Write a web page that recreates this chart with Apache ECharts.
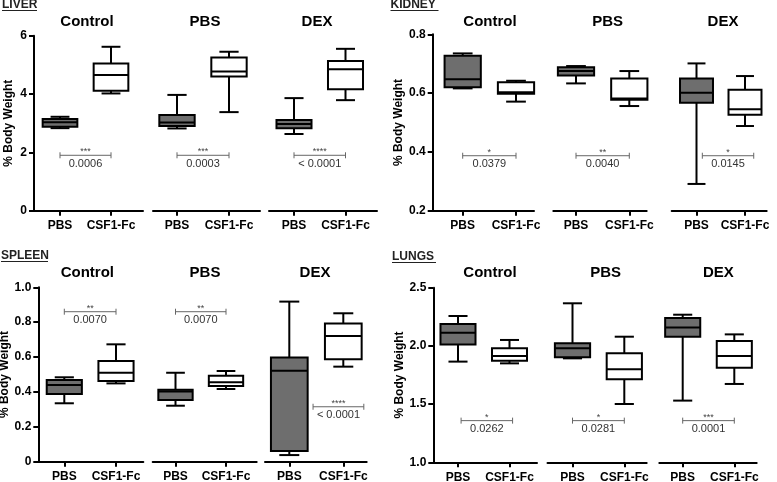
<!DOCTYPE html>
<html><head><meta charset="utf-8">
<script src="https://cdn.jsdelivr.net/npm/echarts@6/dist/echarts.min.js"></script>
<style>html,body{margin:0;padding:0;background:#fff}#c{width:777px;height:482px}</style>
</head><body><div id="c"></div>
<script>
const categories = ['PBS', 'CSF1-Fc'];
const groups = ['Control', 'PBS', 'DEX'];
const organs = ['LIVER', 'KIDNEY', 'SPLEEN', 'LUNGS'];

// box stats [min, Q1, median, Q3, max] for groups Control, PBS, DEX
const liverPBS   = [[2.83,2.88,3.03,3.14,3.22],[2.82,2.90,3.02,3.28,3.97],[2.63,2.83,2.97,3.11,3.86]];
const liverCSF1  = [[4.02,4.11,4.65,5.05,5.62],[3.38,4.60,4.77,5.25,5.45],[3.79,4.16,4.85,5.13,5.55]];
const kidneyPBS  = [[0.616,0.620,0.647,0.727,0.735],[0.633,0.660,0.675,0.688,0.692],[0.291,0.567,0.601,0.650,0.701]];
const kidneyCSF1 = [[0.571,0.598,0.603,0.637,0.642],[0.556,0.577,0.582,0.650,0.675],[0.488,0.526,0.545,0.611,0.658]];
const spleenPBS  = [[0.335,0.388,0.440,0.468,0.484],[0.321,0.354,0.402,0.412,0.510],[0.038,0.061,0.522,0.598,0.918]];
const spleenCSF1 = [[0.449,0.463,0.510,0.577,0.673],[0.417,0.434,0.455,0.493,0.520],[0.545,0.587,0.721,0.793,0.851]];
const lungsPBS   = [[1.865,2.013,2.114,2.188,2.257],[1.893,1.902,1.979,2.022,2.366],[1.530,2.079,2.159,2.240,2.268]];
const lungsCSF1  = [[1.850,1.873,1.913,1.979,2.051],[1.501,1.713,1.799,1.936,2.079],[1.673,1.813,1.913,2.042,2.099]];

// significance annotations
const liverStars  = ['***','***','****'];
const liverP      = ['0.0006','0.0003','< 0.0001'];
const liverBarY   = [1.9,1.9,1.9];
const liverBarX   = [[1,2],[1,2],[1,2]];
const kidneyStars = ['*','**','*'];
const kidneyP     = ['0.0379','0.0040','0.0145'];
const kidneyBarY  = [0.387,0.387,0.387];
const kidneyBarX  = [[1,2],[1,2],[1.12,2.18]];
const spleenStars = ['**','**','****'];
const spleenP     = ['0.0070','0.0070','< 0.0001'];
const spleenBarY  = [0.86,0.86,0.315];
const spleenBarX  = [[1,2],[1,2],[1.44,2.38]];
const lungsStars  = ['*','*','***'];
const lungsP      = ['0.0262','0.0281','0.0001'];
const lungsBarY   = [1.358,1.358,1.358];
const lungsBarX   = [[1.06,2.06],[1,2],[1,2]];

// y axis ranges
const yRanges = [[0,6,2],[0.2,0.8,0.2],[0,1.0,0.2],[1.0,2.5,0.5]];

const FONT = 'Liberation Sans, Arial, Helvetica, sans-serif';
const GREY = '#6e6e6e';

const panels = [
  {pbs: liverPBS, csf: liverCSF1, stars: liverStars, p: liverP, barY: liverBarY, barX: liverBarX,
   fmt: v => String(Math.round(v)),
   L: {top:35.7, bottom:210.7, segs:[[34,143,60,111],[153,260,177,229],[269,377,294,345.5]],
       titleY:21.7, titleX:[87,205,317], lab:[2,5], labW:35, nameGap:19}},
  {pbs: kidneyPBS, csf: kidneyCSF1, stars: kidneyStars, p: kidneyP, barY: kidneyBarY, barX: kidneyBarX,
   fmt: v => v.toFixed(1),
   L: {top:34.3, bottom:210.7, segs:[[432.7,534,462.7,516],[553.3,646.7,576,629.3],[671.7,766.7,696.5,745]],
       titleY:21.7, titleX:[490,607.7,723], lab:[390.5,5], labW:48, nameGap:23.5}},
  {pbs: spleenPBS, csf: spleenCSF1, stars: spleenStars, p: spleenP, barY: spleenBarY, barX: spleenBarX,
   fmt: v => (Math.abs(v) < 1e-9 ? '0' : v.toFixed(1)),
   L: {top:287.3, bottom:461.7, segs:[[38.3,143.3,64.3,116],[152.7,256.7,175.5,226],[265,366.7,289.3,343.3]],
       titleY:273.3, titleX:[87.3,205,315], lab:[1,256], labW:47, nameGap:20.5}},
  {pbs: lungsPBS, csf: lungsCSF1, stars: lungsStars, p: lungsP, barY: lungsBarY, barX: lungsBarX,
   fmt: v => v.toFixed(1),
   L: {top:287.7, bottom:462.3, segs:[[433.3,537,458,509.5],[547.5,646.7,572.5,624.3],[659.3,756.7,682.7,734.3]],
       titleY:273, titleX:[490,605.7,718.3], lab:[392,257], labW:44, nameGap:22.5}}
];

function renderBox(params, api) {
  const x = api.value(0);
  const mn = api.coord([x, api.value(1)]);
  const q1 = api.coord([x, api.value(2)]);
  const md = api.coord([x, api.value(3)]);
  const q3 = api.coord([x, api.value(4)]);
  const mx = api.coord([x, api.value(5)]);
  const unit = api.size([1, 0])[0];
  const bw = unit * 0.68, cw = unit * 0.37;
  const cx = mn[0];
  const ls = {stroke: '#000', lineWidth: 2, fill: null};
  const fill = params.dataIndex === 0 ? GREY : '#fff';
  return {type: 'group', children: [
    {type: 'line', shape: {x1: cx, y1: q3[1], x2: cx, y2: mx[1]}, style: ls},
    {type: 'line', shape: {x1: cx, y1: q1[1], x2: cx, y2: mn[1]}, style: ls},
    {type: 'line', shape: {x1: cx - cw/2, y1: mx[1], x2: cx + cw/2, y2: mx[1]}, style: ls},
    {type: 'line', shape: {x1: cx - cw/2, y1: mn[1], x2: cx + cw/2, y2: mn[1]}, style: ls},
    {type: 'rect', shape: {x: cx - bw/2, y: q3[1], width: bw, height: q1[1] - q3[1]},
     style: {fill: fill, stroke: '#000', lineWidth: 2}},
    {type: 'line', shape: {x1: cx - bw/2, y1: md[1], x2: cx + bw/2, y2: md[1]}, style: ls}
  ]};
}

function makeBracketRenderer(starsArr, pArr, g) {
  return function (params, api) {
    const a = api.coord([api.value(0), api.value(2)]);
    const b = api.coord([api.value(1), api.value(2)]);
    const y = a[1];
    const st = {stroke: '#666', lineWidth: 1};
    return {type: 'group', children: [
      {type: 'line', shape: {x1: a[0], y1: y, x2: b[0], y2: y}, style: st},
      {type: 'line', shape: {x1: a[0], y1: y - 3, x2: a[0], y2: y + 3}, style: st},
      {type: 'line', shape: {x1: b[0], y1: y - 3, x2: b[0], y2: y + 3}, style: st},
      {type: 'text', style: {text: starsArr[g], x: (a[0] + b[0]) / 2, y: y - 3.5, fill: '#444',
        font: '9px ' + FONT, textAlign: 'center', textVerticalAlign: 'middle', align: 'center', verticalAlign: 'middle'}},
      {type: 'text', style: {text: pArr[g], x: (a[0] + b[0]) / 2, y: y + 8.5, fill: '#333',
        font: '11px ' + FONT, textAlign: 'center', textVerticalAlign: 'middle', align: 'center', verticalAlign: 'middle'}}
    ]};
  };
}

const grid = [], xAxis = [], yAxis = [], series = [], graphic = [];
panels.forEach((P, pi) => {
  const L = P.L;
  const yr = yRanges[pi];
  graphic.push({type: 'text', x: L.lab[0], y: L.lab[1], style: {text: organs[pi], font: 'bold 12px ' + FONT,
    fill: '#222', textAlign: 'left', textVerticalAlign: 'middle'}});
  graphic.push({type: 'line', shape: {x1: L.lab[0], y1: L.lab[1] + 5.5, x2: L.lab[0] + L.labW, y2: L.lab[1] + 5.5},
    style: {stroke: '#222', lineWidth: 1}});
  groups.forEach((gname, g) => {
    const idx = grid.length;
    const s = L.segs[g];
    const d = s[3] - s[2];
    grid.push({left: s[0], top: L.top, width: s[1] - s[0], height: L.bottom - L.top, outerBoundsMode: 'none', containLabel: false});
    xAxis.push({type: 'value', gridIndex: idx, min: 1 - (s[2] - s[0]) / d, max: 2 + (s[1] - s[3]) / d,
      axisLine: {show: true, onZero: false, lineStyle: {color: '#000', width: 2}},
      axisTick: {show: true, customValues: [1, 2], length: 5, lineStyle: {color: '#000', width: 2}},
      axisLabel: {show: true, customValues: [1, 2], formatter: v => categories[Math.round(v) - 1] || '',
        fontFamily: FONT, fontWeight: 'bold', fontSize: 12, color: '#000', margin: 9},
      splitLine: {show: false}});
    yAxis.push({type: 'value', gridIndex: idx, min: yr[0], max: yr[1], interval: yr[2], show: g === 0,
      axisLine: {show: true, onZero: false, lineStyle: {color: '#000', width: 2}},
      axisTick: {show: true, length: 5, lineStyle: {color: '#000', width: 2}},
      axisLabel: {formatter: P.fmt, fontFamily: FONT, fontWeight: 'bold', fontSize: 12, color: '#000', margin: 7},
      splitLine: {show: false},
      name: g === 0 ? '% Body Weight' : '', nameLocation: 'middle', nameGap: L.nameGap,
      nameTextStyle: {fontFamily: FONT, fontWeight: 'bold', fontSize: 12, color: '#000'}});
    series.push({type: 'custom', xAxisIndex: idx, yAxisIndex: idx, renderItem: renderBox, clip: false,
      encode: {x: 0, y: [1, 2, 3, 4, 5]},
      data: [[1].concat(P.pbs[g]), [2].concat(P.csf[g])]});
    series.push({type: 'custom', xAxisIndex: idx, yAxisIndex: idx, clip: false,
      renderItem: makeBracketRenderer(P.stars, P.p, g), encode: {x: [0, 1], y: 2},
      data: [[P.barX[g][0], P.barX[g][1], P.barY[g]]]});
    graphic.push({type: 'text', x: L.titleX[g], y: L.titleY, style: {text: gname, font: 'bold 15px ' + FONT,
      fill: '#000', textAlign: 'center', textVerticalAlign: 'middle'}});
  });
});

const chart = echarts.init(document.getElementById('c'), null, {renderer: 'canvas'});
chart.setOption({animation: false, backgroundColor: '#fff', grid, xAxis, yAxis, series, graphic});
</script></body></html>
